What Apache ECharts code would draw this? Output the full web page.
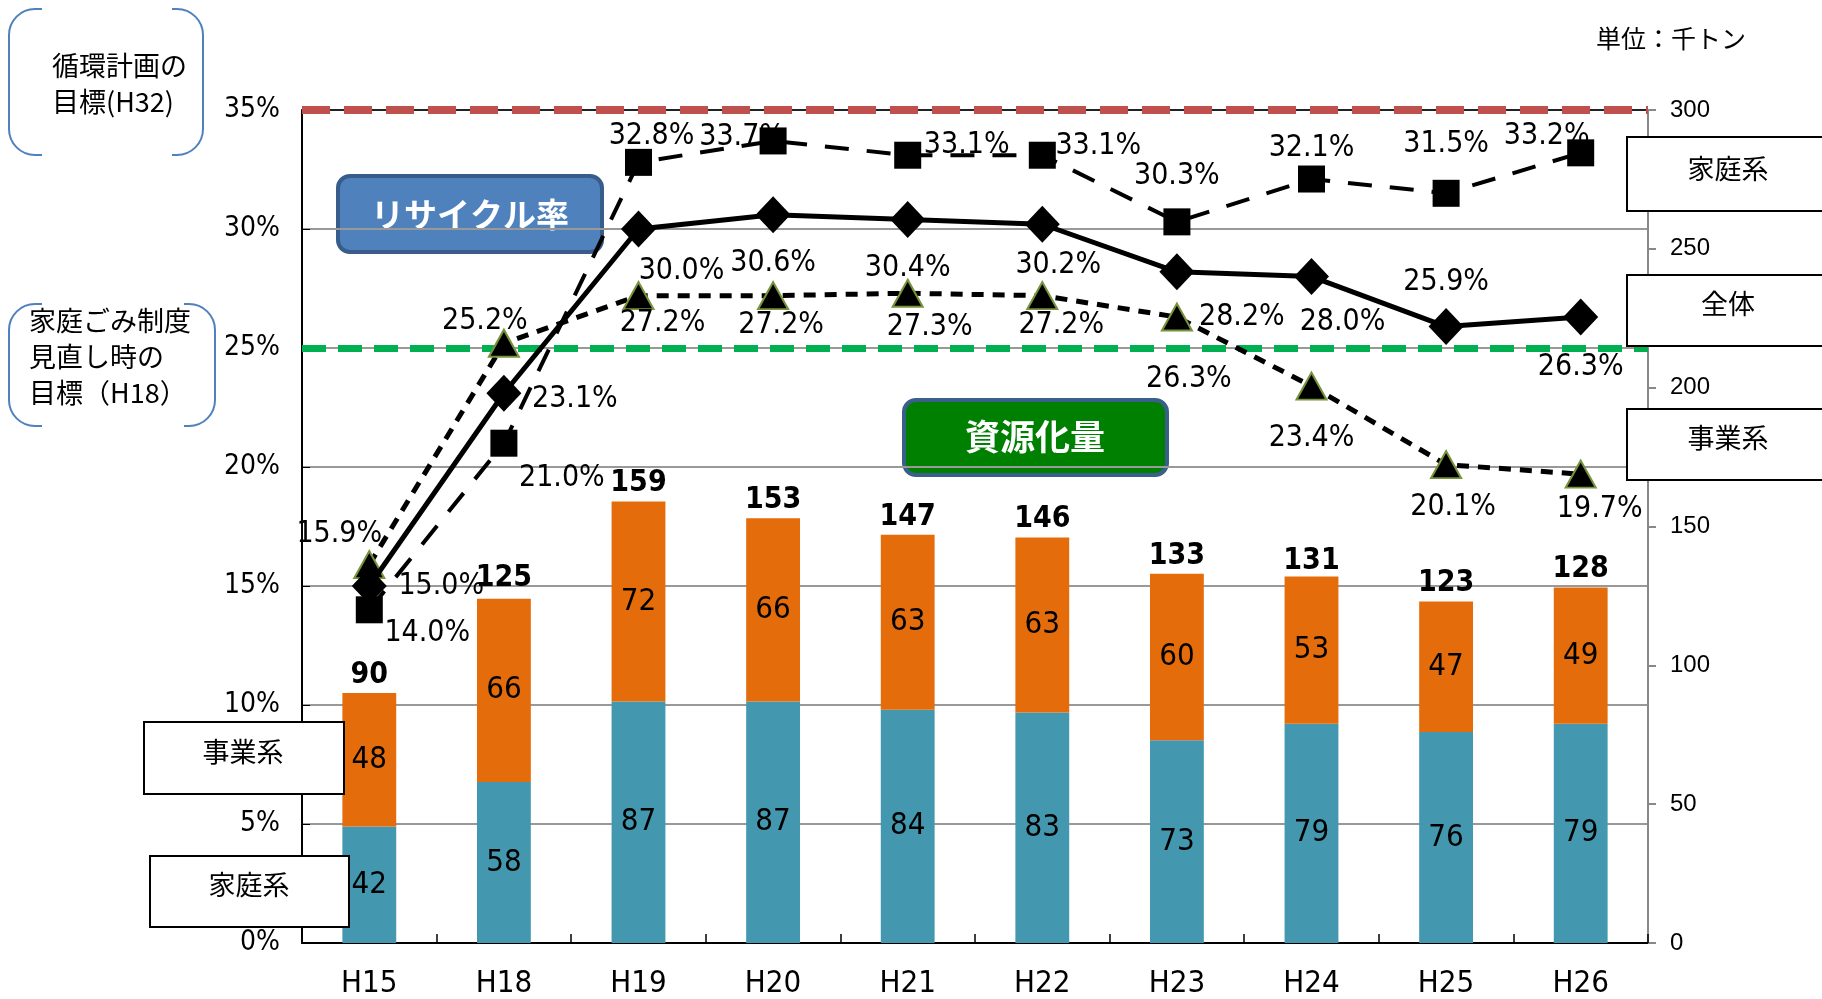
<!DOCTYPE html>
<html>
<head>
<meta charset="utf-8">
<script src="https://cdn.jsdelivr.net/npm/echarts@6/dist/echarts.min.js"></script>
<style>
html,body{margin:0;padding:0;background:#fff;}
#chart{width:1822px;height:999px;}
</style>
</head>
<body>
<div id="chart"></div>
<script>
// ---- data ----
const categories = ['H15','H18','H19','H20','H21','H22','H23','H24','H25','H26'];
const householdAmount = [42, 58, 87, 87, 84, 83, 73, 79, 76, 79];
const businessAmount  = [48, 66, 72, 66, 63, 63, 60, 53, 47, 49];
const totalAmount     = [90, 125, 159, 153, 147, 146, 133, 131, 123, 128];
const rateHousehold = [14.0, 21.0, 32.8, 33.7, 33.1, 33.1, 30.3, 32.1, 31.5, 33.2];
const rateTotal     = [15.0, 23.1, 30.0, 30.6, 30.4, 30.2, 28.2, 28.0, 25.9, 26.3];
const rateBusiness  = [15.9, 25.2, 27.2, 27.2, 27.3, 27.2, 26.3, 23.4, 20.1, 19.7];
const targetPlan = 35;   // 循環計画の目標(H32)
const targetH18 = 25;    // 家庭ごみ制度見直し時の目標(H18)

// ---- label placement (styling only) ----
const offHousehold = [[58,23],[58,35],[13,-26],[-31,-4],[59,-10],[56,-9],[0,-46],[0,-31],[0,-49],[-34,-17]];
const offTotal     = [[72,0],[71,6],[43,42],[0,48],[0,49],[16,41],[65,45],[31,46],[0,-44],[0,50]];
const offBusiness  = [[-30,-30],[-19,-22],[24,28],[8,30],[22,34],[19,30],[12,62],[0,52],[7,43],[19,35]];

const NARROW = "'Liberation Sans Narrow','DejaVu Sans Condensed',sans-serif";
const CJK = "'Noto Sans CJK JP','Noto Sans CJK SC',sans-serif";

function pct(p){ return p.value.toFixed(1) + '%'; }
function lineLabel(){
  return {show:true, position:'inside', align:'center', verticalAlign:'middle',
          color:'#000', fontSize:30, fontFamily:NARROW, formatter:pct};
}
function withOffsets(values, offs){
  return values.map((v,i)=>({value:v, label:{offset:offs[i]}}));
}

const chart = echarts.init(document.getElementById('chart'));
const option = {
  animation:false,
  backgroundColor:'#fff',
  grid:{left:302, right:174, top:110, bottom:54},
  xAxis:{
    type:'category', data:categories, boundaryGap:true,
    axisLine:{lineStyle:{color:'#000', width:2}},
    axisTick:{show:true, inside:true, length:9, lineStyle:{color:'#000', width:1.5}},
    axisLabel:{color:'#000', fontSize:31, fontFamily:NARROW, margin:25}
  },
  yAxis:[
    {type:'value', min:0, max:35, interval:5, position:'left',
     axisLine:{show:true, lineStyle:{color:'#000', width:2}},
     axisTick:{show:true, inside:true, length:8, lineStyle:{color:'#000'}},
     axisLabel:{color:'#000', fontSize:28, fontFamily:NARROW, margin:22, formatter:'{value}%'},
     splitLine:{show:true, lineStyle:{color:['#999','#999','#999','#999','#999','#999','#999','#222'], width:2}}
    },
    {type:'value', min:0, max:300, interval:50, position:'right',
     axisLine:{show:true, lineStyle:{color:'#888', width:2}},
     axisTick:{show:true, length:8, lineStyle:{color:'#888', width:2}},
     axisLabel:{color:'#000', fontSize:24, fontFamily:"'Liberation Sans',sans-serif", margin:22},
     splitLine:{show:false}
    }
  ],
  series:[
    {name:'家庭系(資源化量)', type:'bar', stack:'amt', yAxisIndex:1, data:householdAmount,
     barWidth:'40%', itemStyle:{color:'#4398B0'}, z:2,
     label:{show:true, position:'inside', color:'#000', fontSize:31, fontFamily:NARROW}},
    {name:'事業系(資源化量)', type:'bar', stack:'amt', yAxisIndex:1, data:businessAmount,
     barWidth:'40%', itemStyle:{color:'#E46C0A'}, z:2,
     label:{show:true, position:'inside', color:'#000', fontSize:31, fontFamily:NARROW}},
    {name:'合計', type:'bar', yAxisIndex:1, data:totalAmount, barWidth:'40%', barGap:'-100%',
     itemStyle:{color:'rgba(0,0,0,0)'}, z:1, silent:true,
     label:{show:true, position:'top', distance:3, color:'#000', fontSize:30, fontWeight:'bold', fontFamily:NARROW}},
    {name:'事業系', type:'line', yAxisIndex:0, data:withOffsets(rateBusiness, offBusiness),
     z:4, symbol:'triangle', symbolSize:[30,27],
     itemStyle:{color:'#000', borderColor:'#77933C', borderWidth:2},
     lineStyle:{color:'#000', width:5, type:[12,9]},
     label:lineLabel(),
     markLine:{silent:true, symbol:'none', label:{show:false}, z:3,
       data:[
         {yAxis:targetPlan, lineStyle:{color:'#C0504D', width:8, type:[28,14]}},
         {yAxis:targetH18, lineStyle:{color:'#00B050', width:7, type:[24,12]}}
       ]}
    },
    {name:'家庭系', type:'line', yAxisIndex:0, data:withOffsets(rateHousehold, offHousehold),
     z:5, symbol:'rect', symbolSize:27,
     itemStyle:{color:'#000'},
     lineStyle:{color:'#000', width:4, type:[24,18]},
     label:lineLabel()},
    {name:'全体', type:'line', yAxisIndex:0, data:withOffsets(rateTotal, offTotal),
     z:6, symbol:'diamond', symbolSize:[35,37],
     itemStyle:{color:'#000'},
     lineStyle:{color:'#000', width:5, type:'solid'},
     label:lineLabel()}
  ],
  graphic:[
    // unit
    {type:'text', z:100, style:{text:'単位：千トン', x:1596, y:38, fill:'#000', fontSize:25, fontFamily:CJK, verticalAlign:'middle'}},
    // bracket box 1
    {type:'rect', z:100, shape:{x:9, y:9, width:194, height:146, r:26}, style:{fill:'none', stroke:'#4F81BD', lineWidth:2}},
    {type:'rect', z:101, shape:{x:42, y:4, width:130, height:10}, style:{fill:'#fff'}},
    {type:'rect', z:101, shape:{x:42, y:150, width:130, height:10}, style:{fill:'#fff'}},
    {type:'text', z:102, style:{text:'循環計画の', x:52, y:66, fill:'#000', fontSize:27, fontFamily:CJK, verticalAlign:'middle'}},
    {type:'text', z:102, style:{text:'目標(H32)', x:52, y:102, fill:'#000', fontSize:27, fontFamily:CJK, verticalAlign:'middle'}},
    // bracket box 2
    {type:'rect', z:100, shape:{x:9, y:304, width:206, height:122, r:26}, style:{fill:'none', stroke:'#4F81BD', lineWidth:2}},
    {type:'rect', z:101, shape:{x:42, y:299, width:142, height:10}, style:{fill:'#fff'}},
    {type:'rect', z:101, shape:{x:42, y:421, width:142, height:10}, style:{fill:'#fff'}},
    {type:'text', z:102, style:{text:'家庭ごみ制度', x:29, y:321, fill:'#000', fontSize:27, fontFamily:CJK, verticalAlign:'middle'}},
    {type:'text', z:102, style:{text:'見直し時の', x:29, y:357, fill:'#000', fontSize:27, fontFamily:CJK, verticalAlign:'middle'}},
    {type:'text', z:102, style:{text:'目標（H18）', x:29, y:393, fill:'#000', fontSize:27, fontFamily:CJK, verticalAlign:'middle'}},
    // title boxes
    {type:'rect', z:-1, shape:{x:338, y:176, width:264, height:76, r:12}, style:{fill:'#4F81BD', stroke:'#385D8A', lineWidth:4}},
    {type:'text', z:-1, style:{text:'リサイクル率', x:470, y:214, fill:'#fff', fontSize:33, fontWeight:'bold', fontFamily:CJK, align:'center', verticalAlign:'middle'}},
    {type:'rect', z:-1, shape:{x:904, y:400, width:263, height:75, r:12}, style:{fill:'#008000', stroke:'#3A5F8B', lineWidth:4}},
    {type:'text', z:-1, style:{text:'資源化量', x:1035, y:437, fill:'#fff', fontSize:35, fontWeight:'bold', fontFamily:CJK, align:'center', verticalAlign:'middle'}},
    // right legend boxes
    {type:'rect', z:100, shape:{x:1627, y:137, width:220, height:74}, style:{fill:'#fff', stroke:'#000', lineWidth:2}},
    {type:'text', z:101, style:{text:'家庭系', x:1728, y:169, fill:'#000', fontSize:27, fontFamily:CJK, align:'center', verticalAlign:'middle'}},
    {type:'rect', z:100, shape:{x:1627, y:275, width:220, height:71}, style:{fill:'#fff', stroke:'#000', lineWidth:2}},
    {type:'text', z:101, style:{text:'全体', x:1728, y:304, fill:'#000', fontSize:27, fontFamily:CJK, align:'center', verticalAlign:'middle'}},
    {type:'rect', z:100, shape:{x:1627, y:409, width:220, height:71}, style:{fill:'#fff', stroke:'#000', lineWidth:2}},
    {type:'text', z:101, style:{text:'事業系', x:1728, y:438, fill:'#000', fontSize:27, fontFamily:CJK, align:'center', verticalAlign:'middle'}},
    // left legend boxes
    {type:'rect', z:100, shape:{x:144, y:722, width:200, height:72}, style:{fill:'#fff', stroke:'#000', lineWidth:2}},
    {type:'text', z:101, style:{text:'事業系', x:243, y:752, fill:'#000', fontSize:27, fontFamily:CJK, align:'center', verticalAlign:'middle'}},
    {type:'rect', z:100, shape:{x:150, y:856, width:199, height:71}, style:{fill:'#fff', stroke:'#000', lineWidth:2}},
    {type:'text', z:101, style:{text:'家庭系', x:249, y:885, fill:'#000', fontSize:27, fontFamily:CJK, align:'center', verticalAlign:'middle'}}
  ]
};
chart.setOption(option);
</script>
</body>
</html>
